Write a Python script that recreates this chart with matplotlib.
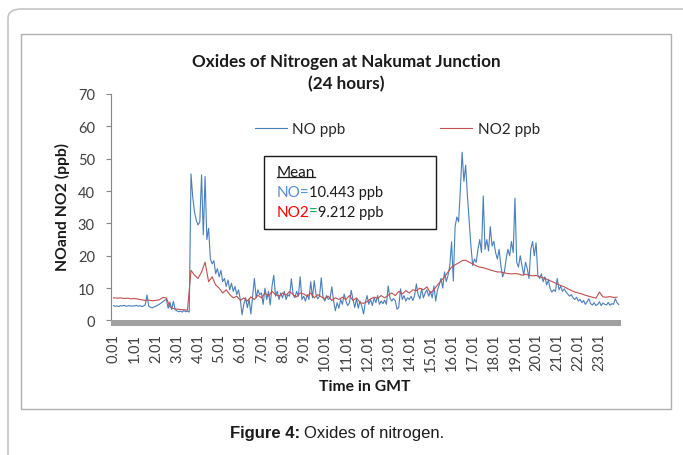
import numpy as np
import matplotlib.pyplot as plt
from matplotlib.patches import Rectangle, FancyBboxPatch
from matplotlib.lines import Line2D

plt.rcParams['font.family'] = ['Lato', 'DejaVu Sans']

# NO readings, one every 5 minutes (12 per hour), hour 0 .. 23
no_ppb = [
    4.6, 4.4, 4.5, 4.3, 4.6, 4.5, 4.7, 4.4, 4.5, 4.6, 4.4, 4.5,
    4.5, 4.7, 4.4, 4.6, 4.3, 4.5, 4.8, 7.9, 4.4, 4.1, 3.9, 4.2,
    4.4, 4.7, 5.0, 5.4, 5.8, 6.2, 6.6, 3.8, 5.7, 3.4, 5.9, 3.3,
    3.0, 2.7, 2.9, 2.6, 3.1, 2.7, 2.9, 2.6, 45.3, 38.0, 33.5, 31.0,
    29.5, 30.5, 45.0, 26.5, 44.5, 25.0, 28.5, 19.0, 17.5, 18.5, 14.5, 16.0,
    13.5, 15.5, 12.0, 13.0, 10.5, 12.5, 9.5, 11.5, 9.0, 10.5, 8.0, 9.5,
    6.5, 1.8, 5.0, 7.0, 4.0, 6.5, 2.0, 7.5, 13.0, 7.0, 9.5, 8.0,
    8.5, 5.0, 10.0, 6.5, 9.0, 4.8, 10.5, 14.0, 7.5, 9.0, 6.5, 8.5,
    7.0, 9.0, 6.5, 8.0, 7.5, 12.9, 8.0, 7.0, 9.0, 7.5, 13.5, 6.5,
    7.5, 6.0, 8.0, 6.5, 12.0, 7.0, 12.3, 8.0, 6.7, 7.5, 13.2, 7.0,
    6.0, 7.7, 6.5, 7.0, 10.4, 6.0, 3.0, 5.5, 3.8, 6.5, 5.0, 8.2,
    6.0, 4.6, 5.5, 9.3, 6.5, 4.0, 6.7, 3.8, 6.0, 4.5, 2.0, 5.5,
    7.7, 5.0, 6.5, 4.6, 7.0, 5.5, 7.7, 5.0, 6.0, 5.2, 6.3, 5.0,
    10.7, 7.0, 6.0, 6.8, 6.2, 3.5, 4.0, 9.8, 6.5, 7.7, 6.0, 7.0,
    6.5, 7.5, 6.2, 7.7, 11.3, 8.0, 6.7, 9.8, 7.0, 8.5, 9.5, 7.5,
    9.0, 7.0, 10.7, 6.0, 9.5, 11.0, 13.0, 10.0, 15.0, 12.0, 14.0, 17.0,
    24.3, 12.2, 29.0, 32.0, 30.5, 40.6, 52.0, 43.0, 48.0, 38.6, 31.0, 23.0,
    17.0, 19.0, 18.0, 22.0, 25.0, 21.0, 38.5, 22.0, 25.0, 21.5, 29.0, 23.0,
    24.5, 21.0, 19.0, 22.0, 17.0, 13.5, 15.0, 19.0, 22.0, 20.0, 24.4, 21.0,
    37.8, 18.0, 16.5, 20.0, 17.0, 14.0, 18.0, 16.0, 13.0, 22.0, 24.4, 20.0,
    24.0, 14.0, 13.0, 14.4, 12.0, 13.5, 11.0, 12.5, 9.8, 8.8, 9.5, 9.0,
    13.0, 9.5, 10.6, 9.0, 9.8, 8.8, 8.2, 7.5, 8.0, 7.0, 6.5, 7.2,
    6.0, 6.5, 5.5, 6.2, 5.0, 5.8, 6.7, 5.2, 4.8, 5.5, 4.6, 5.0,
    5.8, 4.6, 5.4, 5.0, 4.8, 5.6, 4.7, 5.2, 5.0, 6.7, 5.5, 4.9,
]

# NO2 readings, one every 10 minutes (6 per hour)
no2_ppb = [
    7.0, 6.9, 7.0, 6.8, 6.9, 6.7,
    6.8, 6.6, 6.4, 6.2, 6.3, 6.1,
    6.2, 6.4, 7.1, 7.0, 4.2, 3.7,
    3.5, 3.4, 3.3, 3.2, 15.5, 14.0,
    13.0, 15.0, 18.0, 12.0, 13.5, 11.0,
    10.0, 8.5, 9.5, 8.0, 7.0, 7.5,
    6.2, 7.0, 6.0, 7.3, 6.5, 7.8,
    7.0, 8.5, 7.5, 9.0, 8.0, 7.5,
    8.5, 7.8, 9.0, 8.0, 7.3, 8.5,
    8.2, 7.5, 8.5, 7.0, 8.0, 7.3,
    6.8, 7.5, 6.2, 7.0, 6.5, 7.2,
    6.5, 7.7, 6.2, 7.0, 5.5, 5.3,
    5.8, 6.7, 7.2, 6.8, 7.7, 7.0,
    7.8, 8.5, 7.7, 9.0, 8.2, 9.2,
    8.5, 9.5, 9.2, 10.0, 9.5, 10.4,
    8.5, 9.5, 11.0, 12.2, 13.5, 15.0,
    16.5, 17.2, 17.8, 18.5, 18.6, 18.0,
    17.5, 16.9, 16.5, 16.3, 16.0, 15.6,
    15.3, 15.0, 15.0, 14.7, 14.5, 14.4,
    14.5, 14.4, 14.0, 14.3, 14.0, 13.8,
    13.9, 13.5, 13.2, 12.8, 12.3, 11.8,
    11.3, 10.8, 10.4, 9.8, 9.3, 8.8,
    8.5, 8.2, 7.8, 7.5, 7.2, 6.9,
    8.8, 7.3, 7.2, 7.4, 7.1, 7.2,
]

hour_labels = [f"{h}.01" for h in range(24)]
y_ticks = [0, 10, 20, 30, 40, 50, 60, 70]

W, H = 683, 456


def fx(px):
    return px / W


def fy(py):
    return 1 - py / H


fig = plt.figure(figsize=(W / 100, H / 100), dpi=100)

# page frame and chart frame
fig.patches.append(FancyBboxPatch((fx(8), fy(520)), fx(760), 510 / H,
                                  boxstyle="round,pad=0,rounding_size=0.02",
                                  transform=fig.transFigure, fill=False,
                                  edgecolor="#c4c4c4", linewidth=1.2))
fig.patches.append(Rectangle((fx(21), fy(410)), fx(650), (410 - 35) / H,
                             transform=fig.transFigure, fill=False,
                             edgecolor="#b0b0b0", linewidth=1.0))

ax = fig.add_axes([fx(111), fy(327), fx(621 - 111), (327 - 95) / H])

t_no = np.arange(len(no_ppb)) / 12
t_no2 = np.arange(len(no2_ppb)) / 6
ax.plot(t_no, no_ppb, color="#4a7ebb", linewidth=0.8, label="NO ppb")
ax.plot(t_no2, no2_ppb, color="#c0504d", linewidth=0.8, label="NO2 ppb")

ax.set_xlim(-0.12, 24.02)
ax.set_ylim(-1.7, 70)
ax.axhspan(-1.7, 0, color="#a0a0a0", zorder=3, linewidth=0)

ax.set_yticks(y_ticks)
ax.set_yticklabels([str(v) for v in y_ticks], fontsize=10.5, color="#404040")
ax.set_xticks([h + 1 / 60 for h in range(24)])
ax.set_xticklabels(hour_labels, rotation=90, fontsize=10.5, color="#404040")
ax.tick_params(axis="x", length=0, pad=5)
ax.tick_params(axis="y", length=3.6, color="#868686", pad=8)
for s in ["top", "right", "bottom"]:
    ax.spines[s].set_visible(False)
ax.spines["left"].set_color("#868686")
ax.spines["left"].set_bounds(0, 70)

ax.legend(ncol=2, loc="center left", bbox_to_anchor=(fx(255), fy(130)),
          bbox_transform=fig.transFigure, frameon=False, fontsize=11,
          handlelength=2.1, handletextpad=0.35, columnspacing=6.2,
          borderpad=0, borderaxespad=0, labelcolor="#262626")

fig.text(fx(346), fy(62), "Oxides of Nitrogen at Nakumat Junction",
         ha="center", va="center", fontsize=12.3, fontweight="bold", color="#1a1a1a")
fig.text(fx(346), fy(84), "(24 hours)", ha="center", va="center",
         fontsize=12.3, fontweight="bold", color="#1a1a1a")
fig.text(fx(62), fy(207), "NOand NO2 (ppb)", rotation=90, ha="center",
         va="center", fontsize=11.3, fontweight="bold", color="#1a1a1a")
fig.text(fx(365), fy(387), "Time in GMT", ha="center", va="center",
         fontsize=11.3, fontweight="bold", color="#1a1a1a")

# mean box
fig.patches.append(Rectangle((fx(264), fy(230)), fx(436 - 264), (230 - 157) / H,
                             transform=fig.transFigure, fill=False,
                             edgecolor="#1a1a1a", linewidth=1.0))
mean_t = fig.text(fx(277), fy(173), "Mean", va="center", fontsize=11, color="#1a1a1a")
t1 = fig.text(fx(277), fy(193), "NO=", va="center", fontsize=11, color="#558ed5")
t2 = fig.text(fx(277), fy(213), "NO2", va="center", fontsize=11, color="#ff0000")

fig.canvas.draw()
r = fig.canvas.get_renderer()
inv = fig.transFigure.inverted()


def right_of(t, nudge=0.5):
    bb = t.get_window_extent(r)
    return inv.transform((bb.x1 - nudge, bb.y0))[0]


fig.text(right_of(t1), fy(193), "10.443 ppb", va="center", fontsize=10.5, color="#1a1a1a")
eq = fig.text(right_of(t2), fy(213), "=", va="center", fontsize=11, color="#00b050")
fig.canvas.draw()
fig.text(right_of(eq, nudge=-0.5), fy(213), "9.212 ppb", va="center", fontsize=10.5,
         color="#1a1a1a")

bb = mean_t.get_window_extent(r)
(x0, y0), (x1, _) = inv.transform([(bb.x0, bb.y0), (bb.x1, bb.y1)])
fig.lines.append(Line2D([x0, x1], [y0 + 0.004, y0 + 0.004], transform=fig.transFigure,
                        color="#1a1a1a", linewidth=0.9))

# caption under the chart
cap_bold = fig.text(fx(230), fy(434), "Figure 4:", ha="left", va="center", fontsize=12,
                    fontweight="bold", color="#1a1a1a", family="Liberation Sans")
fig.canvas.draw()
fig.text(right_of(cap_bold, nudge=-4), fy(434), "Oxides of nitrogen.", ha="left",
         va="center", fontsize=12, color="#1a1a1a", family="Liberation Sans")

fig.savefig("out.png", dpi=100)
